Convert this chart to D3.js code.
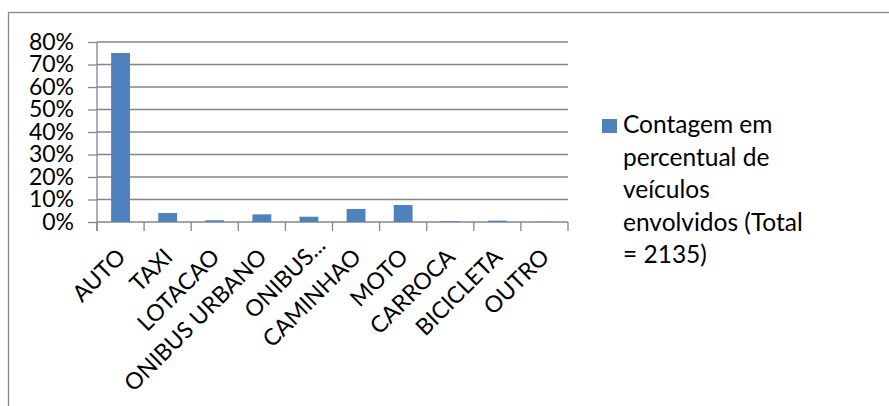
<!DOCTYPE html>
<html>
<head>
<meta charset="utf-8">
<script src="https://cdn.jsdelivr.net/npm/d3@7"></script>
<style>
  html, body { margin: 0; padding: 0; background: #fff; }
  svg { display: block; }
  text { font-family: Lato, "Open Sans", sans-serif; fill: #000; }
</style>
</head>
<body>
<script>
// Vehicle categories involved in accidents and their share of the total count
const categories = ["AUTO", "TAXI", "LOTACAO", "ONIBUS URBANO", "ONIBUS...", "CAMINHAO", "MOTO", "CARROCA", "BICICLETA", "OUTRO"];
const shares = [0.751, 0.040, 0.0075, 0.034, 0.0236, 0.058, 0.0756, 0.003, 0.006, 0.001];
const yTicks = [0, 0.1, 0.2, 0.3, 0.4, 0.5, 0.6, 0.7, 0.8];
const legendLines = ["Contagem em", "percentual de", "veículos", "envolvidos (Total", "= 2135)"];

const W = 889, H = 406;
const grid = "#868686";
const barColor = "#4f81bd";
const axisFont = 23;
const legendFont = 24.5;

const svg = d3.select("body").append("svg").attr("width", W).attr("height", H);

// chart frame (extends beyond the visible area on the right and bottom)
svg.append("rect")
  .attr("x", 8.5).attr("y", 12.5).attr("width", W + 20).attr("height", H + 20)
  .attr("fill", "none").attr("stroke", grid).attr("stroke-width", 1.3);

const plot = { left: 97, right: 568, top: 42, bottom: 222 };

const x = d3.scaleBand().domain(categories).range([plot.left, plot.right]).paddingInner(0).paddingOuter(0);
const y = d3.scaleLinear().domain([0, 0.8]).range([plot.bottom, plot.top]);

// horizontal gridlines
svg.append("g").selectAll("line").data(yTicks.filter(d => d > 0)).join("line")
  .attr("x1", plot.left).attr("x2", plot.right)
  .attr("y1", d => y(d)).attr("y2", d => y(d))
  .attr("stroke", grid).attr("stroke-width", 1.3);

// y axis with percentage labels
const yAxis = d3.axisLeft(y).tickValues(yTicks).tickFormat(d3.format(".0%")).tickSize(9).tickPadding(14);
const gy = svg.append("g").attr("transform", `translate(${plot.left},0)`).call(yAxis);
gy.select(".domain").attr("stroke", grid).attr("stroke-width", 1.3)
  .attr("d", `M0,${plot.top}V${plot.bottom + 9}`);
gy.selectAll(".tick line").attr("stroke", grid).attr("stroke-width", 1.3);
gy.selectAll(".tick text").attr("font-size", axisFont).attr("font-family", "Lato").attr("fill", "#000");

// x axis baseline and category separators
svg.append("line")
  .attr("x1", plot.left).attr("x2", plot.right)
  .attr("y1", plot.bottom).attr("y2", plot.bottom)
  .attr("stroke", grid).attr("stroke-width", 1.3);
const bounds = categories.map(c => x(c)).concat([x(categories[categories.length - 1]) + x.bandwidth()]);
svg.append("g").selectAll("line").data(bounds).join("line")
  .attr("x1", d => d).attr("x2", d => d)
  .attr("y1", plot.bottom).attr("y2", plot.bottom + 9)
  .attr("stroke", grid).attr("stroke-width", 1.3);

// bars (gap width 150%)
const barW = x.bandwidth() / 2.5;
svg.append("g").selectAll("rect").data(categories).join("rect")
  .attr("x", (d) => x(d) + (x.bandwidth() - barW) / 2)
  .attr("width", barW)
  .attr("y", (d, i) => y(shares[i]))
  .attr("height", (d, i) => y(0) - y(shares[i]))
  .attr("fill", barColor);

// rotated category labels; a truncated name keeps its stem aligned and lets the ellipsis run past
const labels = svg.append("g");
categories.forEach(c => {
  const cx = x(c) + x.bandwidth() / 2;
  const t = labels.append("text")
    .attr("font-size", axisFont)
    .attr("dominant-baseline", "central")
    .attr("transform", `translate(${cx},252) rotate(-45)`)
    .text(c);
  if (c.endsWith("...")) {
    const probe = labels.append("text").attr("font-size", axisFont).text(c.slice(0, -3));
    const stem = probe.node().getComputedTextLength();
    probe.remove();
    t.attr("text-anchor", "start").attr("x", -stem);
  } else {
    t.attr("text-anchor", "end");
  }
});

// legend
const lg = svg.append("g");
lg.append("rect").attr("x", 602).attr("y", 119).attr("width", 15).attr("height", 14).attr("fill", barColor);
lg.append("g").selectAll("text").data(legendLines).join("text")
  .attr("x", 623)
  .attr("y", (d, i) => 133 + i * 32.5)
  .attr("font-size", legendFont)
  .text(d => d);
</script>
</body>
</html>
